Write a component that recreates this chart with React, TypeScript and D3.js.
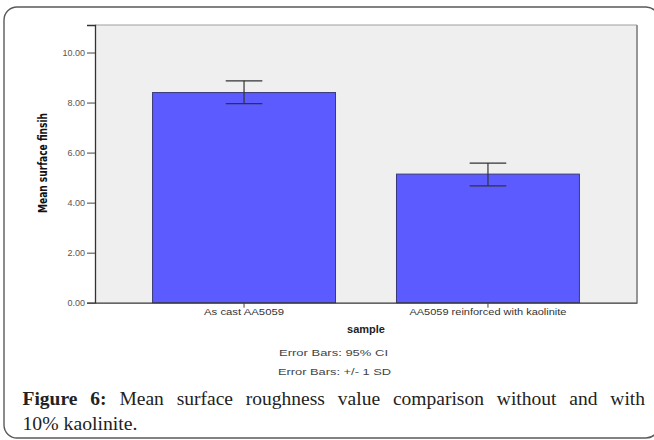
import { useEffect, useRef } from 'react';
import * as d3 from 'd3';

// chart values
const categories = ['As cast AA5059', 'AA5059 reinforced with kaolinite'];
const means = [8.4, 5.14];
const ciLow = [7.96, 4.67];
const ciHigh = [8.87, 5.58];
const yTicks = [0, 2, 4, 6, 8, 10];

const captionLine1 = ['Figure', '6:', 'Mean', 'surface', 'roughness', 'value', 'comparison', 'without', 'and', 'with'];
const captionBold = 2; // first two words are bold
const captionLine2 = '10% kaolinite.';

const W = 654;
const H = 440;

export default function App() {
  const svgRef = useRef<SVGSVGElement | null>(null);

  useEffect(() => {
    const svg = d3.select(svgRef.current);
    svg.selectAll('*').remove();

    const left = 95, right = 637, top = 25, bottom = 302.7;
    const sans = "'Liberation Sans', Arial, sans-serif";
    const serif = "'Liberation Serif', 'Times New Roman', serif";

    // outer figure frame (runs off the right edge)
    svg.append('rect')
      .attr('x', 4).attr('y', 7)
      .attr('width', 655).attr('height', 431)
      .attr('rx', 13)
      .attr('fill', '#fff')
      .attr('stroke', '#5a5a5a')
      .attr('stroke-width', 1.4);

    const x = d3.scaleBand<string>()
      .domain(categories)
      .range([left, right])
      .paddingInner(0.25)
      .paddingOuter(0.236);

    const y = d3.scaleLinear().domain([0, 11.1]).range([bottom, top]);

    // plot background
    svg.append('rect')
      .attr('x', left).attr('y', top)
      .attr('width', right - left).attr('height', bottom - top)
      .attr('fill', '#efefef');

    // plot border (top / right)
    svg.append('line')
      .attr('x1', left).attr('x2', right).attr('y1', top).attr('y2', top)
      .attr('stroke', '#a0a0a0').attr('stroke-width', 1.2);
    svg.append('line')
      .attr('x1', right).attr('x2', right).attr('y1', top).attr('y2', bottom)
      .attr('stroke', '#8c8c8c').attr('stroke-width', 1.8);

    // bars
    svg.append('g')
      .selectAll('rect')
      .data(categories)
      .enter()
      .append('rect')
      .attr('x', d => x(d)!)
      .attr('y', (d, i) => y(means[i]))
      .attr('width', x.bandwidth())
      .attr('height', (d, i) => y(0) - y(means[i]))
      .attr('fill', '#5b5bff')
      .attr('stroke', '#3a3a78')
      .attr('stroke-width', 1);

    // error bars (95% CI)
    const capW = x.bandwidth() * 0.2;
    const eg = svg.append('g').attr('stroke', '#333').attr('stroke-width', 1.2);
    categories.forEach((c, i) => {
      const cx = x(c)! + x.bandwidth() / 2;
      eg.append('line').attr('x1', cx).attr('x2', cx).attr('y1', y(ciLow[i])).attr('y2', y(ciHigh[i]));
      eg.append('line').attr('x1', cx - capW / 2).attr('x2', cx + capW / 2).attr('y1', y(ciLow[i])).attr('y2', y(ciLow[i]));
      eg.append('line').attr('x1', cx - capW / 2).attr('x2', cx + capW / 2).attr('y1', y(ciHigh[i])).attr('y2', y(ciHigh[i]));
    });

    // y axis
    const yAxis = svg.append('g')
      .attr('transform', `translate(${left},0)`)
      .call(d3.axisLeft(y).tickValues(yTicks).tickFormat(d3.format('.2f')).tickSize(8).tickPadding(2));
    yAxis.select('.domain').attr('stroke', '#333').attr('stroke-width', 1.3);
    yAxis.selectAll('.tick line').attr('stroke', '#444');
    yAxis.selectAll('.tick text')
      .attr('font-family', sans).attr('font-size', 9).attr('fill', '#555');

    // x axis
    const xAxis = svg.append('g')
      .attr('transform', `translate(0,${bottom})`)
      .call(d3.axisBottom(x).tickSize(5).tickSizeOuter(0).tickPadding(1));
    xAxis.select('.domain').attr('stroke', '#333').attr('stroke-width', 1.3);
    xAxis.selectAll('.tick line').attr('stroke', '#444');
    xAxis.selectAll('.tick text')
      .attr('font-family', sans).attr('font-size', 9).attr('fill', '#333')
      .attr('textLength', (d, i) => (i === 0 ? 80 : 157))
      .attr('lengthAdjust', 'spacingAndGlyphs');

    // axis titles
    svg.append('text')
      .attr('transform', `translate(47,163) rotate(-90)`)
      .attr('text-anchor', 'middle')
      .attr('font-family', "'DejaVu Sans Condensed', 'DejaVu Sans', sans-serif")
      .attr('font-stretch', 'condensed')
      .attr('font-weight', 'bold')
      .attr('font-size', 12)
      .attr('fill', '#111')
      .attr('textLength', 100)
      .attr('lengthAdjust', 'spacingAndGlyphs')
      .text('Mean surface finsih');

    svg.append('text')
      .attr('x', 366).attr('y', 333)
      .attr('text-anchor', 'middle')
      .attr('font-family', sans).attr('font-weight', 'bold').attr('font-size', 11)
      .attr('fill', '#222')
      .text('sample');

    svg.append('text')
      .attr('x', 279).attr('y', 356)
      .attr('font-family', sans).attr('font-size', 9.5).attr('fill', '#444')
      .attr('textLength', 109).attr('lengthAdjust', 'spacingAndGlyphs')
      .text('Error Bars: 95% CI');
    svg.append('text')
      .attr('x', 278).attr('y', 375)
      .attr('font-family', sans).attr('font-size', 9.5).attr('fill', '#444')
      .attr('textLength', 113).attr('lengthAdjust', 'spacingAndGlyphs')
      .text('Error Bars:  +/- 1 SD');

    // caption, first line justified
    const capLeft = 22.5, capRight = 645;
    const capSize = 19.5;
    const words = captionLine1.map((w, i) =>
      svg.append('text')
        .attr('y', 405)
        .attr('font-family', serif)
        .attr('font-size', capSize)
        .attr('font-weight', i < captionBold ? 'bold' : 'normal')
        .attr('fill', '#222')
        .text(w)
    );
    const widths = words.map(t => (t.node() as SVGTextElement).getComputedTextLength());
    const gap = (capRight - capLeft - d3.sum(widths)) / (words.length - 1);
    let cx = capLeft;
    words.forEach((t, i) => {
      t.attr('x', cx);
      cx += widths[i] + gap;
    });

    svg.append('text')
      .attr('x', capLeft).attr('y', 430)
      .attr('font-family', serif).attr('font-size', capSize).attr('fill', '#222')
      .attr('textLength', 115).attr('lengthAdjust', 'spacingAndGlyphs')
      .text(captionLine2);
  }, []);

  return (
    <svg
      ref={svgRef}
      width={W}
      height={H}
      style={{ position: 'absolute', left: 0, top: 0, display: 'block' }}
    />
  );
}
